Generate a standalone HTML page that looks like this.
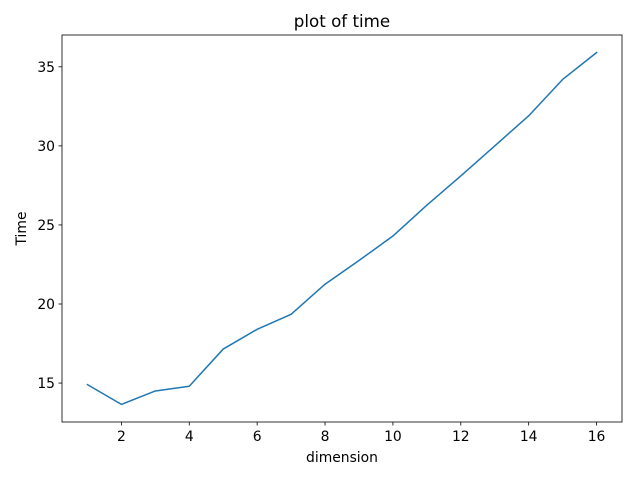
<!DOCTYPE html>
<html><head><meta charset="utf-8"><style>body{margin:0;background:#fff}svg{display:block;font-family:"DejaVu Sans","Liberation Sans",sans-serif}</style></head>
<body>
<svg id="chart" width="640" height="480"></svg>
<script>
const categories=[1,2,3,4,5,6,7,8,9,10,11,12,13,14,15,16];
const timeValues=[14.9,13.65,14.5,14.8,17.15,18.4,19.35,21.25,22.75,24.3,26.25,28.1,30.0,31.9,34.2,35.9];
const xTicks=[2,4,6,8,10,12,14,16];
const yTicks=[15,20,25,30,35];
const L=62,R=622,T=35,B=422;
const xmin=0.25,xmax=16.75,ymin=12.5375,ymax=37.0125;
const sx=v=>L+(v-xmin)/(xmax-xmin)*(R-L);
const sy=v=>B-(v-ymin)/(ymax-ymin)*(B-T);
const svg=document.getElementById('chart');
const NS='http://www.w3.org/2000/svg';
function mk(tag,attrs,txt){const e=document.createElementNS(NS,tag);for(const k in attrs)e.setAttribute(k,attrs[k]);if(txt!==undefined)e.textContent=txt;svg.appendChild(e);return e;}
let f=mk('rect',{x:L,y:T,width:R-L,height:B-T,fill:'none',stroke:'#000','stroke-width':0.8});


xTicks.forEach(t=>{const x=sx(t);
let l=mk('line',{x1:x,x2:x,y1:B,y2:B+3.5,stroke:'#000','stroke-width':0.8});


let tx=mk('text',{x:x,y:B+19,'font-size':13.9,'text-anchor':'middle'},t);

});
yTicks.forEach(t=>{const y=sy(t);
let l=mk('line',{x1:L-3.5,x2:L,y1:y,y2:y,stroke:'#000','stroke-width':0.8});


let tx=mk('text',{x:L-7,y:y+5,'font-size':13.9,'text-anchor':'end'},t);

});
let p=mk('polyline',{points:categories.map((c,i)=>sx(c)+','+sy(timeValues[i])).join(' '),fill:'none',stroke:'#1f77b4','stroke-width':1.5,'stroke-linejoin':'round','stroke-linecap':'square'});


let ti=mk('text',{x:(L+R)/2,y:T-8,'font-size':16.7,'text-anchor':'middle'},'plot of time');


let xl=mk('text',{x:(L+R)/2,y:B+40,'font-size':13.9,'text-anchor':'middle'},'dimension');


let yl=mk('text',{x:26,y:(T+B)/2,'font-size':13.9,'text-anchor':'middle',transform:'rotate(-90 26 '+((T+B)/2)+')'},'Time');


</script>
</body></html>
